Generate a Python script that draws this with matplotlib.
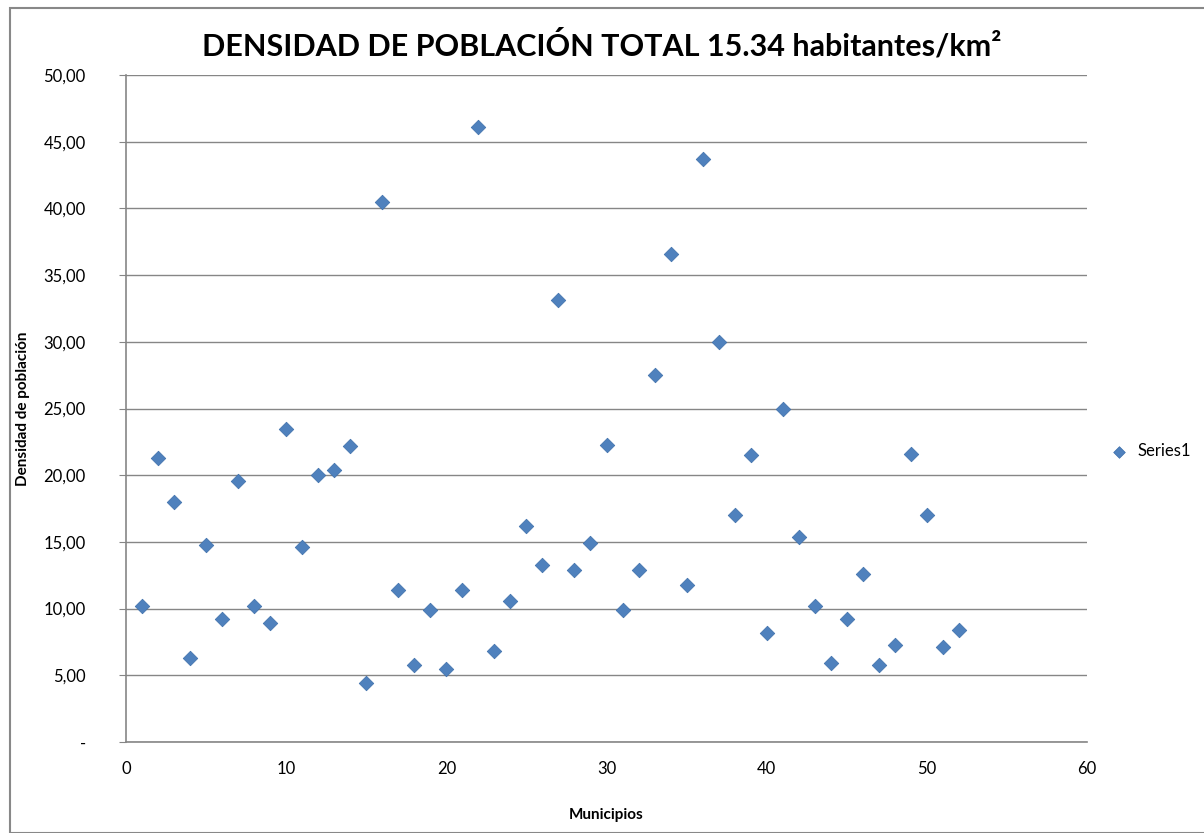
import matplotlib.pyplot as plt
from matplotlib.patches import Rectangle
from matplotlib.ticker import FuncFormatter

plt.rcParams["font.family"] = ["Lato", "DejaVu Sans"]

municipios = list(range(1, 53))
densidad = [
    10.2, 21.3, 18.0, 6.3, 14.8, 9.2, 19.6, 10.2, 8.9, 23.5,
    14.6, 20.0, 20.4, 22.2, 4.4, 40.5, 11.4, 5.8, 9.9, 5.5,
    11.4, 46.1, 6.8, 10.6, 16.2, 13.3, 33.1, 12.9, 14.9, 22.3,
    9.9, 12.9, 27.5, 36.6, 11.8, 43.7, 30.0, 17.0, 21.5, 8.2,
    25.0, 15.4, 10.2, 5.9, 9.2, 12.6, 5.8, 7.3, 21.6, 17.0,
    7.1, 8.4,
]
y_ticks = [0, 5, 10, 15, 20, 25, 30, 35, 40, 45, 50]
x_ticks = [0, 10, 20, 30, 40, 50, 60]

fig = plt.figure(figsize=(12.04, 8.33), dpi=100)
fig.patches.append(Rectangle((10 / 1204, 0.0), 1.2, 1 - 8 / 833, transform=fig.transFigure,
                             fill=False, edgecolor="#888888", linewidth=1.5))
ax = fig.add_axes([126 / 1204, 1 - 742 / 833, (1087 - 126) / 1204, (742 - 75) / 833])

ax.scatter(municipios, densidad, marker="D", s=55, color="#4F81BD",
           edgecolor="#3C6EAA", linewidth=0.5, zorder=3, label="Series1")

ax.set_xlim(0, 60)
ax.set_ylim(0, 50)
ax.set_xticks(x_ticks)
ax.set_yticks(y_ticks)
ax.yaxis.set_major_formatter(FuncFormatter(
    lambda v, p: "-" if v == 0 else f"{v:.2f}".replace(".", ",")))
ax.grid(axis="y", color="#868686", linewidth=1)
ax.set_axisbelow(True)
for side in ["top", "right"]:
    ax.spines[side].set_visible(False)
for side in ["left", "bottom"]:
    ax.spines[side].set_color("#868686")
    ax.spines[side].set_linewidth(1.2)
ax.tick_params(axis="y", length=5, color="#868686", labelsize=12, pad=24)
ax.tick_params(axis="x", length=0, labelsize=12, pad=14)

ax.set_xlabel("Municipios", fontsize=11, fontweight="bold")
ax.set_ylabel("Densidad de población", fontsize=11, fontweight="bold")
ax.xaxis.set_label_coords(0.5, -0.099)
ax.yaxis.set_label_coords(-0.1, 0.5)
fig.text(0.5, 1 - 45 / 833, "DENSIDAD DE POBLACIÓN TOTAL 15.34 habitantes/km²",
         ha="center", va="center", fontsize=22, fontweight="bold")

ax.legend(loc="center left", bbox_to_anchor=(1.0, 0.436), frameon=False,
          fontsize=12, handletextpad=0.1, markerscale=0.8)

fig.savefig("out.png", dpi=100)
